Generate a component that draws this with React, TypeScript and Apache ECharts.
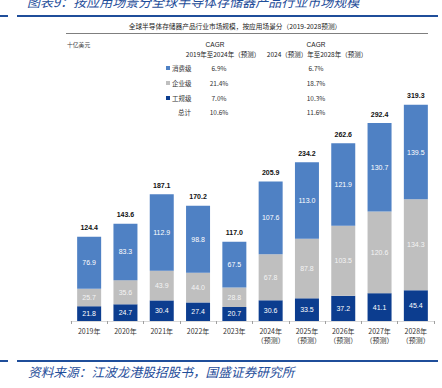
import React, { useEffect, useRef } from "react";
import * as echarts from "echarts";

const categories = ["2019年", "2020年", "2021年", "2022年", "2023年", "2024年\n（预测）", "2025年\n（预测）", "2026年\n（预测）", "2027年\n（预测）", "2028年\n（预测）"];
const industrial = [21.8, 24.7, 30.4, 27.4, 20.7, 30.6, 33.5, 37.2, 41.1, 45.4];
const enterprise = [25.7, 35.6, 43.9, 44.0, 28.8, 67.8, 87.8, 103.5, 120.6, 134.3];
const consumer = [76.9, 83.3, 112.9, 98.8, 67.5, 107.6, 113.0, 121.9, 130.7, 139.5];
const totals = [124.4, 143.6, 187.1, 170.2, 117.0, 205.9, 234.2, 262.6, 292.4, 319.3];

const legendNames = ["消费级", "企业级", "工规级", "总计"];
const cagr1 = ["6.9%", "21.4%", "7.0%", "10.6%"];
const cagr2 = ["6.7%", "18.7%", "10.3%", "11.6%"];

const C_CONS = "#4F81C4";
const C_ENT = "#BFBFBF";
const C_IND = "#0C3D8F";
const BLUE = "#1F4E9A";
const CJK = "'Noto Sans CJK SC', sans-serif";
const NUM = "'Liberation Sans Narrow', 'Liberation Sans', sans-serif";

export default function App() {
  const ref = useRef<HTMLDivElement>(null);
  useEffect(() => {
    if (!ref.current) return;
    const chart = echarts.init(ref.current, null, { renderer: "svg" });
    const legendColors = [C_CONS, C_ENT, C_IND, null];
    const rowY = [68, 83, 98, 112];
    const graphics: any[] = [
      { type: "text", left: 27, top: -5, style: { text: "图表9：按应用场景分全球半导体存储器产品行业市场规模", fontSize: 13, fontStyle: "italic", fill: BLUE, fontFamily: CJK } },
      { type: "rect", shape: { x: 0, y: 15, width: 8, height: 2 }, style: { fill: BLUE } },
      { type: "rect", shape: { x: 17, y: 15, width: 421, height: 2 }, style: { fill: BLUE } },
      { type: "text", x: 235, y: 26, style: { text: "全球半导体存储器产品行业市场规模，按应用场景分（2019-2028预测）", fontSize: 6.7, fill: "#222", fontFamily: CJK, align: "center", verticalAlign: "middle" } },
      { type: "rect", shape: { x: 66, y: 33, width: 362, height: 1 }, style: { fill: "#7f7f7f" } },
      { type: "text", x: 67, y: 44, style: { text: "十亿美元", fontSize: 5.8, fill: "#444", fontFamily: CJK, verticalAlign: "middle" } },
      { type: "text", x: 215, y: 44, style: { text: "CAGR", fontSize: 6.5, fill: "#222", fontFamily: NUM, align: "center", verticalAlign: "middle" } },
      { type: "text", x: 316, y: 44, style: { text: "CAGR", fontSize: 6.5, fill: "#222", fontFamily: NUM, align: "center", verticalAlign: "middle" } },
      { type: "text", x: 223, y: 53.5, style: { text: "2019年至2024年（预测）", fontSize: 6.5, fill: "#222", fontFamily: CJK, align: "center", verticalAlign: "middle" } },
      { type: "text", x: 317, y: 53.5, style: { text: "2024（预测）年至2028年（预测）", fontSize: 6.5, fill: "#222", fontFamily: CJK, align: "center", verticalAlign: "middle" } },
      { type: "rect", shape: { x: 0, y: 360, width: 8, height: 2 }, style: { fill: BLUE } },
      { type: "rect", shape: { x: 17, y: 360, width: 421, height: 2 }, style: { fill: BLUE } },
      { type: "text", x: 28, y: 371, style: { text: "资料来源：江波龙港股招股书，国盛证券研究所", fontSize: 12.7, fontStyle: "italic", fill: BLUE, fontFamily: CJK, verticalAlign: "middle" } },
    ];
    legendNames.forEach((n, i) => {
      const col = legendColors[i];
      if (col) {
        graphics.push({ type: "rect", shape: { x: 166, y: rowY[i] - 2, width: 4, height: 4 }, style: { fill: col } });
      }
      graphics.push({ type: "text", x: col ? 172 : 178, y: rowY[i], style: { text: n, fontSize: 6.5, fill: "#333", fontFamily: CJK, verticalAlign: "middle" } });
      graphics.push({ type: "text", x: 219, y: rowY[i], style: { text: cagr1[i], fontSize: 6.5, fill: "#333", fontFamily: CJK, align: "center", verticalAlign: "middle" } });
      graphics.push({ type: "text", x: 316, y: rowY[i], style: { text: cagr2[i], fontSize: 6.5, fill: "#333", fontFamily: CJK, align: "center", verticalAlign: "middle" } });
    });

    const inLabel = (color: string) => ({ show: true, position: "inside", fontSize: 7, color, fontFamily: NUM, formatter: (p: any) => p.value.toFixed(1) });

    chart.setOption({
      animation: false,
      grid: { left: 71, right: 8, top: 84, bottom: 67 },
      xAxis: {
        type: "category",
        data: categories,
        axisLine: { lineStyle: { color: "#d9d9d9" } },
        axisTick: { show: true, length: 3, interval: 0, lineStyle: { color: "#a0a0a0" } },
        axisLabel: { fontSize: 7, color: "#333", fontFamily: CJK, margin: 5, lineHeight: 9, interval: 0 },
      },
      yAxis: { type: "value", min: 0, max: 350, show: false, splitLine: { show: false } },
      graphic: graphics,
      series: [
        { name: "工规级", type: "bar", stack: "s", data: industrial, barWidth: 24, itemStyle: { color: C_IND }, label: inLabel("#ffffff") },
        { name: "企业级", type: "bar", stack: "s", data: enterprise, barWidth: 24, itemStyle: { color: C_ENT }, label: inLabel("#f4f4f4") },
        { name: "消费级", type: "bar", stack: "s", data: consumer, barWidth: 24, itemStyle: { color: C_CONS }, label: inLabel("#ffffff") },
        {
          name: "总计", type: "line", data: totals, symbol: "circle", symbolSize: 1, showSymbol: true,
          itemStyle: { color: "rgba(0,0,0,0)" }, lineStyle: { opacity: 0 }, z: 5,
          label: { show: true, position: "top", distance: 5, fontSize: 7, fontWeight: "bold", color: "#111", fontFamily: NUM, formatter: (p: any) => p.value.toFixed(1) },
        },
      ],
    });
    return () => chart.dispose();
  }, []);
  return <div ref={ref} style={{ position: "absolute", left: 0, top: 0, width: 442, height: 388 }} />;
}
